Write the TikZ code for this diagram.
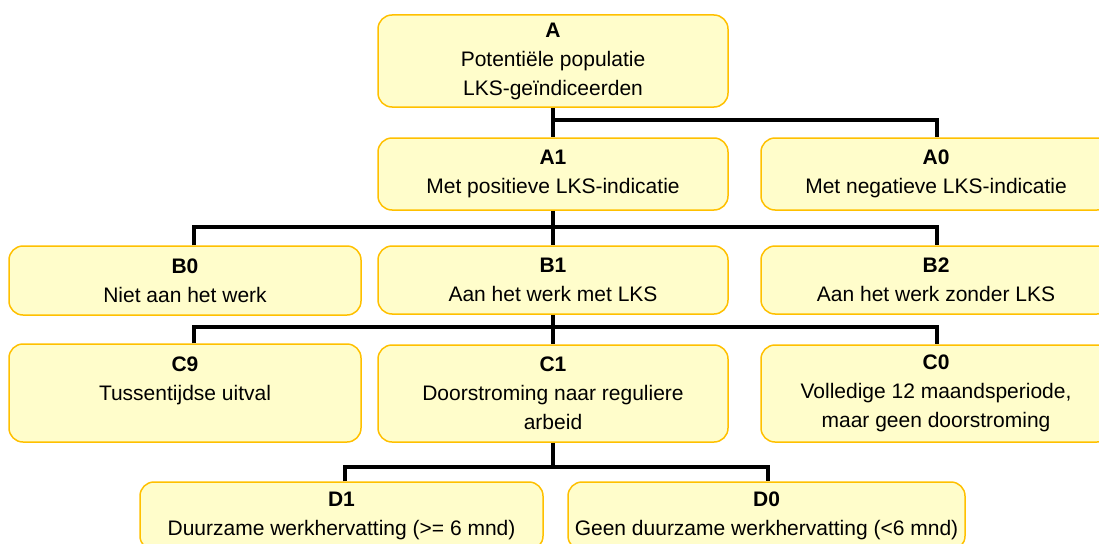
\documentclass[tikz,border=0pt]{standalone}
\usepackage{fontspec}
\setmainfont{Liberation Sans}
\usetikzlibrary{calc}
\definecolor{boxfill}{HTML}{FFFDCB}
\definecolor{boxline}{HTML}{FFC000}
\begin{document}
\begin{tikzpicture}[x=1pt,y=-1pt,
  box/.style={draw=boxline, fill=boxfill, line width=1.5pt, rounded corners=14pt,
    align=center, inner sep=0pt, text=black, font=\fontsize{21}{29}\selectfont},
  conn/.style={line width=3.5pt, draw=black}]
\clip (0,0) rectangle (1099,543);
% row A
\node[box, minimum width=350pt, minimum height=92pt] (A) at (553,61)
  {\textbf{A}\\Potentiële populatie\\LKS-geïndiceerden};
\node[box, minimum width=350pt, minimum height=72pt] (A1) at (553,174)
  {\textbf{A1}\\Met positieve LKS-indicatie};
\node[box, minimum width=350pt, minimum height=72pt] (A0) at (936,174)
  {\textbf{A0}\\Met negatieve LKS-indicatie};
% row B
\node[box, minimum width=352pt, minimum height=69pt] (B0) at (185,280.5)
  {\textbf{B0}\\Niet aan het werk};
\node[box, minimum width=350pt, minimum height=68pt] (B1) at (553,280)
  {\textbf{B1}\\Aan het werk met LKS};
\node[box, minimum width=350pt, minimum height=68pt] (B2) at (936,280)
  {\textbf{B2}\\Aan het werk zonder LKS};
% row C
\node[box, minimum width=352pt, minimum height=98pt] (C9) at (185,393)
  {\textbf{C9}\\Tussentijdse uitval\\\mbox{}};
\node[box, minimum width=350pt, minimum height=97pt] (C1) at (553,393.5)
  {\textbf{C1}\\Doorstroming naar reguliere\\arbeid};
\node[box, minimum width=350pt, minimum height=97pt] (C0) at (936,393.5)
  {\textbf{C0}\\Volledige 12 maandsperiode,\\maar geen doorstroming};
% row D
\node[box, minimum width=403pt, minimum height=68pt] (D1) at (341.5,516)
  {\textbf{D1}\\Duurzame werkhervatting (>= 6 mnd)};
\node[box, minimum width=397pt, minimum height=68pt] (D0) at (766.5,516)
  {\textbf{D0}\\Geen duurzame werkhervatting (<6 mnd)};
% connectors
\draw[conn] (A.south) -- (A1.north);
\draw[conn] ($(A.south)+(0,12)$) -| ($(A0.north)+(1,0)$);
\draw[conn] (A1.south) -- (B1.north);
\draw[conn] ($(B0.north)+(9,0)$) |- ($(A1.south)+(0,16)$) -| ($(B2.north)+(1,0)$);
\draw[conn] (B1.south) -- (C1.north);
\draw[conn] ($(C9.north)+(9,0)$) |- ($(B1.south)+(0,12)$) -| ($(C0.north)+(1,0)$);
\draw[conn] (C1.south) -- ($(C1.south)+(0,24)$);
\draw[conn] ($(D1.north)+(3.5,0)$) |- ($(C1.south)+(0,24)$) -| ($(D0.north)+(1.5,0)$);
\end{tikzpicture}
\end{document}
